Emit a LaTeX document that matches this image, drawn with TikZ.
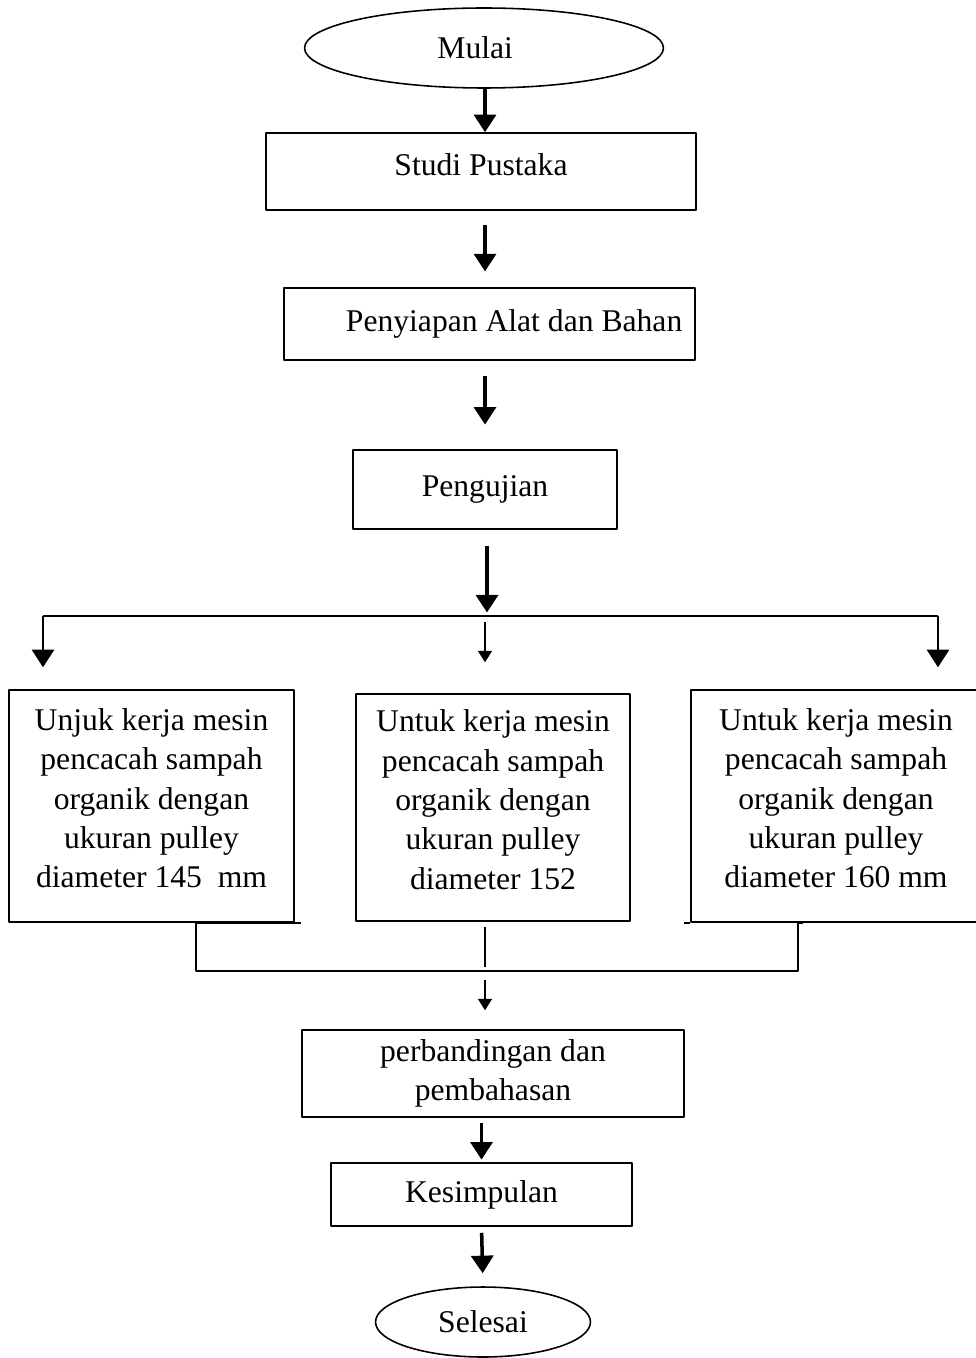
\documentclass[tikz,border=0pt]{standalone}
\usepackage{fontspec}
\setmainfont{Liberation Serif}
\usetikzlibrary{shapes.geometric,arrows.meta}

\begin{document}
\begin{tikzpicture}[x=0.02cm, y=-0.02cm, font=\fontsize{18}{22.4}\selectfont, line join=round,
	kotak/.style={draw, line width=0.9pt, rectangle, align=center, inner sep=0pt},
	kotakvariasi/.style={kotak, minimum height=4.64cm, text depth=9pt},
	elips/.style={draw, line width=0.9pt, ellipse, inner sep=0pt},
	panah/.style={-{Triangle[width=12.5pt,length=10pt]}, line width=2pt},
	panahtipis/.style={-{Triangle[width=8pt,length=6.5pt]}, line width=0.7pt},
	garis/.style={line width=0.9pt}]
	\useasboundingbox (0,0) rectangle (976,1358);
	% alur utama
	\node[elips, minimum width=7.18cm, minimum height=1.6cm] (mulai) at (484,48) {\hspace*{-10pt}Mulai};
	\node[kotak, minimum width=8.6cm, minimum height=1.54cm, text depth=8pt] (studi) at (481,171.5) {Studi Pustaka};
	\node[kotak, minimum width=8.22cm, minimum height=1.44cm] (siap) at (489.5,324) {\hspace*{28pt}Penyiapan Alat dan Bahan};
	\node[kotak, minimum width=5.28cm, minimum height=1.58cm] (uji) at (485,489.5) {Pengujian};
	% tiga variasi pulley
	\node[kotakvariasi, minimum width=5.7cm] (kiri) at (151.5,806)
		{Unjuk kerja mesin\\ pencacah sampah\\ organik dengan\\ ukuran pulley\\ diameter 145~ mm};
	\node[kotakvariasi, minimum width=5.48cm, minimum height=4.54cm] (tengah) at (493,807.5)
		{Untuk kerja mesin\\ pencacah sampah\\ organik dengan\\ ukuran pulley\\ diameter 152};
	\node[kotakvariasi, minimum width=5.8cm] (kanan) at (836,806)
		{Untuk kerja mesin\\ pencacah sampah\\ organik dengan\\ ukuran pulley\\ diameter 160 mm};
	\node[kotak, minimum width=7.64cm, minimum height=1.74cm] (banding) at (493,1073.5)
		{perbandingan dan\\ pembahasan};
	\node[kotak, minimum width=6.02cm, minimum height=1.26cm] (simpul) at (481.5,1194.5) {Kesimpulan};
	\node[elips, minimum width=4.3cm, minimum height=1.4cm] (selesai) at (483,1322) {Selesai};
	% titik cabang dan gabung
	\coordinate (cabang) at (487,616);
	\coordinate (ckiri) at (43,616);
	\coordinate (ckanan) at (938,616);
	\coordinate (gkiri) at (196,971);
	\coordinate (gkanan) at (798,971);
	\coordinate (gtengah) at (485,971);
	% panah
	\draw[panah] (mulai.south -| uji) -- (studi.north -| uji);
	\draw[panah, shorten <=8pt, shorten >=9pt] (studi.south -| uji) -- (siap.north -| uji);
	\draw[panah, shorten <=8.5pt, shorten >=14pt] (siap.south -| uji) -- (uji.north);
	\draw[panah, shorten <=9pt, shorten >=2pt] (uji.south -| cabang) -- (cabang);
	\draw[garis] (ckiri) -- (ckanan);
	\draw[panah, line width=1.6pt, shorten >=12.5pt] (ckiri) -- (ckiri |- kiri.north);
	\draw[panah, line width=1.6pt, shorten >=12.5pt] (ckanan) -- (ckanan |- kanan.north);
	\draw[panahtipis, shorten <=3.4pt, shorten >=17.6pt] (gtengah |- cabang) -- (gtengah |- tengah.north);
	\draw[garis] (kiri.south east) ++(6,0) -- (gkiri |- kiri.south) -- (gkiri) -- (gkanan)
		-- (gkanan |- kanan.south) -- ++(5,0);
	\draw[garis] (kanan.south west) -- ++(-6,0);
	\draw[line width=0.6pt, shorten <=3pt, shorten >=2pt] (gtengah |- tengah.south) -- (gtengah);
	\draw[panahtipis, shorten <=5pt, shorten >=10.8pt] (gtengah) -- (gtengah |- banding.north);
	\draw[panah, shorten <=3pt, shorten >=1.5pt] (banding.south -| simpul) -- (simpul.north);
	\draw[panah, shorten <=3.4pt, shorten >=7.4pt] (simpul.south) -- (selesai.north);
\end{tikzpicture}
\end{document}
